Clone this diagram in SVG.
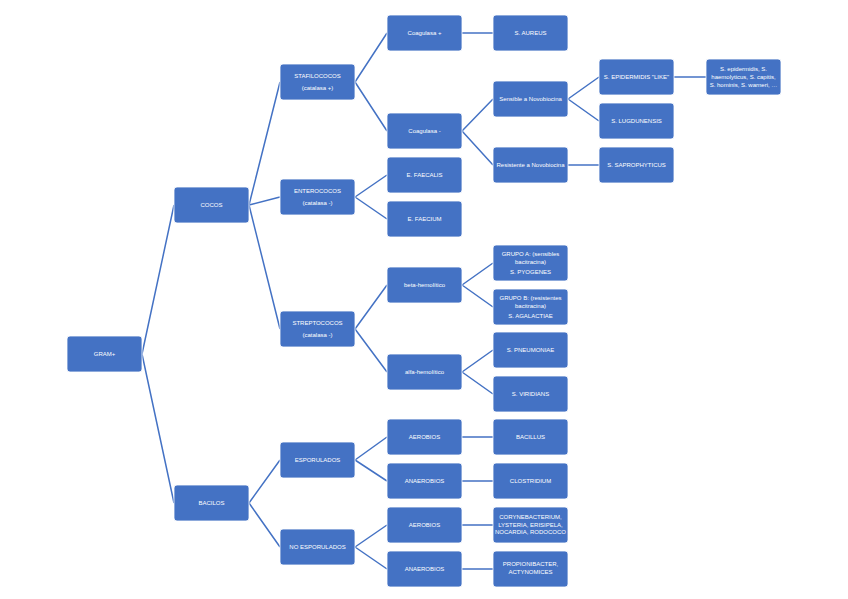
<svg xmlns="http://www.w3.org/2000/svg" width="848" height="599" viewBox="0 0 848 599">
<style>
.b{fill:#4472C4;stroke:#ffffff;stroke-width:0.8}
.t{fill:#ffffff;font-family:"Liberation Sans",Arial,sans-serif;font-size:6px;text-anchor:middle}
.c{stroke:#4472C4;stroke-width:1.5;fill:none}
</style>
<rect width="848" height="599" fill="#ffffff"/>
<g id="connectors" class="c">
<path d="M142,354L174,205M142,354L174,503"/>
<path d="M249,205L280,82M249,205L280,197M249,205L280,329"/>
<path d="M249,503L280,460M249,503L280,547"/>
<path d="M355,82L387,33M355,82L387,131"/>
<path d="M355,197L387,175M355,197L387,219"/>
<path d="M355,329L387,285M355,329L387,372"/>
<path d="M355,460L387,437M355,460L387,481"/>
<path d="M355,547L387,525M355,547L387,569"/>
<path d="M462,33L493,33"/>
<path d="M462,131L493,99M462,131L493,165"/>
<path d="M462,285L493,263M462,285L493,307"/>
<path d="M462,372L493,350M462,372L493,394"/>
<path d="M462,437L493,437M462,481L493,481M462,525L493,525M462,569L493,569"/>
<path d="M568,99L599,77M568,99L599,121"/>
<path d="M568,165L599,165"/>
<path d="M674,77L706,77"/>
</g>
<g id="gram"><rect class="b" x="67" y="336" width="75" height="36" rx="3"/><text class="t" x="104.5" y="356">GRAM+</text></g>
<g id="cocos"><rect class="b" x="174" y="187" width="75" height="36" rx="3"/><text class="t" x="211.5" y="207">COCOS</text></g>
<g id="bacilos"><rect class="b" x="174" y="485" width="75" height="36" rx="3"/><text class="t" x="211.5" y="505">BACILOS</text></g>
<g id="estafilococos"><rect class="b" x="280" y="64" width="75" height="36" rx="3"/><text class="t" x="317.5" y="78">STAFILOCOCOS</text><text class="t" x="317.5" y="90">(catalasa +)</text></g>
<g id="enterococos"><rect class="b" x="280" y="179" width="75" height="36" rx="3"/><text class="t" x="317.5" y="193">ENTEROCOCOS</text><text class="t" x="317.5" y="205">(catalasa -)</text></g>
<g id="streptococos"><rect class="b" x="280" y="311" width="75" height="36" rx="3"/><text class="t" x="317.5" y="325">STREPTOCOCOS</text><text class="t" x="317.5" y="337">(catalasa -)</text></g>
<g id="esporulados"><rect class="b" x="280" y="442" width="75" height="36" rx="3"/><text class="t" x="317.5" y="462">ESPORULADOS</text></g>
<g id="noesporulados"><rect class="b" x="280" y="529" width="75" height="36" rx="3"/><text class="t" x="317.5" y="549">NO ESPORULADOS</text></g>
<g id="coagpos"><rect class="b" x="387" y="15" width="75" height="36" rx="3"/><text class="t" x="424.5" y="35">Coagulasa +</text></g>
<g id="coagneg"><rect class="b" x="387" y="113" width="75" height="36" rx="3"/><text class="t" x="424.5" y="133">Coagulasa -</text></g>
<g id="faecalis"><rect class="b" x="387" y="157" width="75" height="36" rx="3"/><text class="t" x="424.5" y="177">E. FAECALIS</text></g>
<g id="faecium"><rect class="b" x="387" y="201" width="75" height="36" rx="3"/><text class="t" x="424.5" y="221">E. FAECIUM</text></g>
<g id="beta"><rect class="b" x="387" y="267" width="75" height="36" rx="3"/><text class="t" x="424.5" y="287">beta-hemolítico</text></g>
<g id="alfa"><rect class="b" x="387" y="354" width="75" height="36" rx="3"/><text class="t" x="424.5" y="374">alfa-hemolítico</text></g>
<g id="aerobios1"><rect class="b" x="387" y="419" width="75" height="36" rx="3"/><text class="t" x="424.5" y="439">AEROBIOS</text></g>
<g id="anaerobios1"><rect class="b" x="387" y="463" width="75" height="36" rx="3"/><text class="t" x="424.5" y="483">ANAEROBIOS</text></g>
<g id="aerobios2"><rect class="b" x="387" y="507" width="75" height="36" rx="3"/><text class="t" x="424.5" y="527">AEROBIOS</text></g>
<g id="anaerobios2"><rect class="b" x="387" y="551" width="75" height="36" rx="3"/><text class="t" x="424.5" y="571">ANAEROBIOS</text></g>
<g id="aureus"><rect class="b" x="493" y="15" width="75" height="36" rx="3"/><text class="t" x="530.5" y="35">S. AUREUS</text></g>
<g id="sensible"><rect class="b" x="493" y="81" width="75" height="36" rx="3"/><text class="t" x="530.5" y="101">Sensible a Novobiocina</text></g>
<g id="resistente"><rect class="b" x="493" y="147" width="75" height="36" rx="3"/><text class="t" x="530.5" y="167">Resistente a Novobiocina</text></g>
<g id="grupoa"><rect class="b" x="493" y="245" width="75" height="36" rx="3"/><text class="t" x="530.5" y="256">GRUPO A: (sensibles</text><text class="t" x="530.5" y="264">bacitracina)</text><text class="t" x="530.5" y="274">S. PYOGENES</text></g>
<g id="grupob"><rect class="b" x="493" y="289" width="75" height="36" rx="3"/><text class="t" x="530.5" y="300">GRUPO B: (resistentes</text><text class="t" x="530.5" y="308">bacitracina)</text><text class="t" x="530.5" y="318">S. AGALACTIAE</text></g>
<g id="pneumoniae"><rect class="b" x="493" y="332" width="75" height="36" rx="3"/><text class="t" x="530.5" y="352">S. PNEUMONIAE</text></g>
<g id="viridans"><rect class="b" x="493" y="376" width="75" height="36" rx="3"/><text class="t" x="530.5" y="396">S. VIRIDIANS</text></g>
<g id="bacillus"><rect class="b" x="493" y="419" width="75" height="36" rx="3"/><text class="t" x="530.5" y="439">BACILLUS</text></g>
<g id="clostridium"><rect class="b" x="493" y="463" width="75" height="36" rx="3"/><text class="t" x="530.5" y="483">CLOSTRIDIUM</text></g>
<g id="coryne"><rect class="b" x="493" y="507" width="75" height="36" rx="3"/><text class="t" x="530.5" y="519">CORYNEBACTERIUM,</text><text class="t" x="530.5" y="526.5">LYSTERIA, ERISIPELA,</text><text class="t" x="530.5" y="534">NOCARDIA, RODOCOCO</text></g>
<g id="propioni"><rect class="b" x="493" y="551" width="75" height="36" rx="3"/><text class="t" x="530.5" y="566">PROPIONIBACTER,</text><text class="t" x="530.5" y="574">ACTYNOMICES</text></g>
<g id="epidermidis"><rect class="b" x="599" y="59" width="75" height="36" rx="3"/><text class="t" x="636.5" y="79">S. EPIDERMIDIS "LIKE"</text></g>
<g id="lugdunensis"><rect class="b" x="599" y="103" width="75" height="36" rx="3"/><text class="t" x="636.5" y="123">S. LUGDUNENSIS</text></g>
<g id="saprophyticus"><rect class="b" x="599" y="147" width="75" height="36" rx="3"/><text class="t" x="636.5" y="167">S. SAPROPHYTICUS</text></g>
<g id="epilist"><rect class="b" x="706" y="59" width="75" height="36" rx="3"/><text class="t" x="743.5" y="71">S. epidermidis, S.</text><text class="t" x="743.5" y="79">haemolyticus, S. capitis,</text><text class="t" x="743.5" y="86.5">S. hominis, S. warneri, …</text></g>
</svg>
